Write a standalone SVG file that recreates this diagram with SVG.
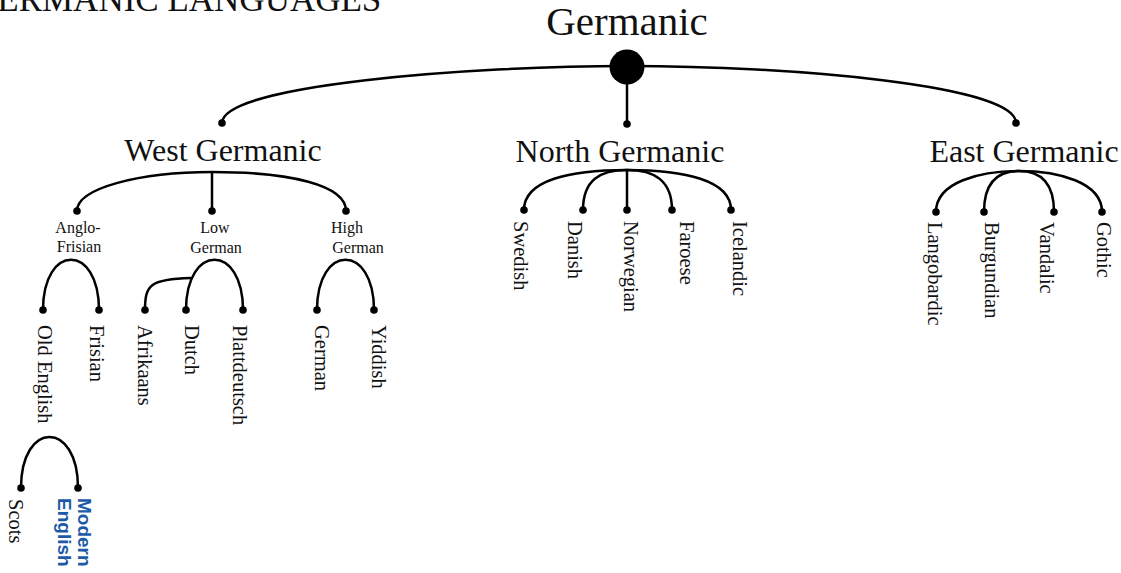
<svg xmlns="http://www.w3.org/2000/svg" width="1121" height="573" viewBox="0 0 1121 573">
<style>
.t{font-family:"Liberation Serif","Times New Roman",serif;fill:#111}
.lvl0{font-size:41px;text-anchor:middle}
.lvl1{font-size:32px;text-anchor:middle}
.lvl2{font-size:16px;text-anchor:middle}
.leaf{font-size:20.5px}
.hl{font-family:"Liberation Sans",Arial,sans-serif;font-weight:bold;font-size:19px;fill:#1c5aa8}
.c{fill:none;stroke:#000;stroke-width:2.5}
.d{fill:#000}
</style>
<text class="t" x="-28" y="11" font-size="35">GERMANIC LANGUAGES</text>
<g id="connectors">
<path class="c" d="M222,123 C222,85 470,66 627,66 C790,66 1016,85 1016,123"/>
<path class="c" d="M627,67 V124"/>
<path class="c" d="M77,211 C77,188 140,172 212,172 C290,172 346,185 346,211"/>
<path class="c" d="M212,172 V211"/>
<path class="c" d="M43,310 C43,243 99,243 99,310"/>
<path class="c" d="M186,310 C186,243 243,243 243,310"/>
<path class="c" d="M191,278 C150,279 145,285 145,310"/>
<path class="c" d="M317,310 C317,243 374,243 374,310"/>
<path class="c" d="M21,488 C21,420 78,420 78,488"/>
<path class="c" d="M524,210 C524,180 570,170 627,170 C684,170 731,180 731,210"/>
<path class="c" d="M583,210 C583,180 600,170 627,170 C654,170 672,180 672,210"/>
<path class="c" d="M627,170 V210"/>
<path class="c" d="M936,212 C936,182 980,171 1019,171 C1058,171 1102,182 1102,212"/>
<path class="c" d="M984,212 C984,180 1000,171 1019,171 C1038,171 1054,180 1054,212"/>
</g>
<g id="germanic"><circle class="d" cx="627" cy="67" r="17.5"/><text class="t lvl0" x="627" y="35">Germanic</text></g>
<g id="west-germanic"><circle class="d" cx="222" cy="123" r="3.8"/><text class="t lvl1" x="223" y="161">West Germanic</text></g>
<g id="north-germanic"><circle class="d" cx="627" cy="124" r="3.8"/><text class="t lvl1" x="620" y="162">North Germanic</text></g>
<g id="east-germanic"><circle class="d" cx="1016" cy="123" r="3.8"/><text class="t lvl1" x="1024" y="162">East Germanic</text></g>
<g id="anglo-frisian"><circle class="d" cx="77" cy="211" r="3.8"/><text class="t lvl2" x="78" y="233">Anglo-</text><text class="t lvl2" x="79" y="252">Frisian</text></g>
<g id="low-german"><circle class="d" cx="212" cy="211" r="3.8"/><text class="t lvl2" x="215" y="233">Low</text><text class="t lvl2" x="216" y="253">German</text></g>
<g id="high-german"><circle class="d" cx="346" cy="211" r="3.8"/><text class="t lvl2" x="347" y="233">High</text><text class="t lvl2" x="358" y="253">German</text></g>
<g id="old-english"><circle class="d" cx="43" cy="310" r="3.8"/><text class="t leaf" transform="translate(38,325) rotate(90)">Old English</text></g>
<g id="frisian"><circle class="d" cx="99" cy="310" r="3.8"/><text class="t leaf" transform="translate(90,325) rotate(90)">Frisian</text></g>
<g id="afrikaans"><circle class="d" cx="145" cy="310" r="3.8"/><text class="t leaf" transform="translate(138,325) rotate(90)">Afrikaans</text></g>
<g id="dutch"><circle class="d" cx="186" cy="310" r="3.8"/><text class="t leaf" transform="translate(185,325) rotate(90)">Dutch</text></g>
<g id="plattdeutsch"><circle class="d" cx="243" cy="310" r="3.8"/><text class="t leaf" transform="translate(233,325) rotate(90)">Plattdeutsch</text></g>
<g id="german"><circle class="d" cx="317" cy="310" r="3.8"/><text class="t leaf" transform="translate(315,325) rotate(90)">German</text></g>
<g id="yiddish"><circle class="d" cx="374" cy="310" r="3.8"/><text class="t leaf" transform="translate(372,325) rotate(90)">Yiddish</text></g>
<g id="scots"><circle class="d" cx="21" cy="488" r="3.8"/><text class="t leaf" transform="translate(9,499) rotate(90)">Scots</text></g>
<g id="modern-english"><circle class="d" cx="78" cy="488" r="3.8"/><text class="hl" transform="translate(78,498) rotate(90)"><tspan x="0" y="0">Modern</tspan><tspan x="0" y="20">English</tspan></text></g>
<g id="swedish"><circle class="d" cx="524" cy="210" r="3.8"/><text class="t leaf" transform="translate(514,221) rotate(90)">Swedish</text></g>
<g id="danish"><circle class="d" cx="583" cy="210" r="3.8"/><text class="t leaf" transform="translate(568,221) rotate(90)">Danish</text></g>
<g id="norwegian"><circle class="d" cx="627" cy="210" r="3.8"/><text class="t leaf" transform="translate(624,221) rotate(90)">Norwegian</text></g>
<g id="faroese"><circle class="d" cx="672" cy="210" r="3.8"/><text class="t leaf" transform="translate(680,221) rotate(90)">Faroese</text></g>
<g id="icelandic"><circle class="d" cx="731" cy="210" r="3.8"/><text class="t leaf" transform="translate(733,221) rotate(90)">Icelandic</text></g>
<g id="langobardic"><circle class="d" cx="936" cy="212" r="3.8"/><text class="t leaf" transform="translate(928,222) rotate(90)">Langobardic</text></g>
<g id="burgundian"><circle class="d" cx="984" cy="212" r="3.8"/><text class="t leaf" transform="translate(985,222) rotate(90)">Burgundian</text></g>
<g id="vandalic"><circle class="d" cx="1054" cy="212" r="3.8"/><text class="t leaf" transform="translate(1040,222) rotate(90)">Vandalic</text></g>
<g id="gothic"><circle class="d" cx="1102" cy="212" r="3.8"/><text class="t leaf" transform="translate(1097,222) rotate(90)">Gothic</text></g>
</svg>
